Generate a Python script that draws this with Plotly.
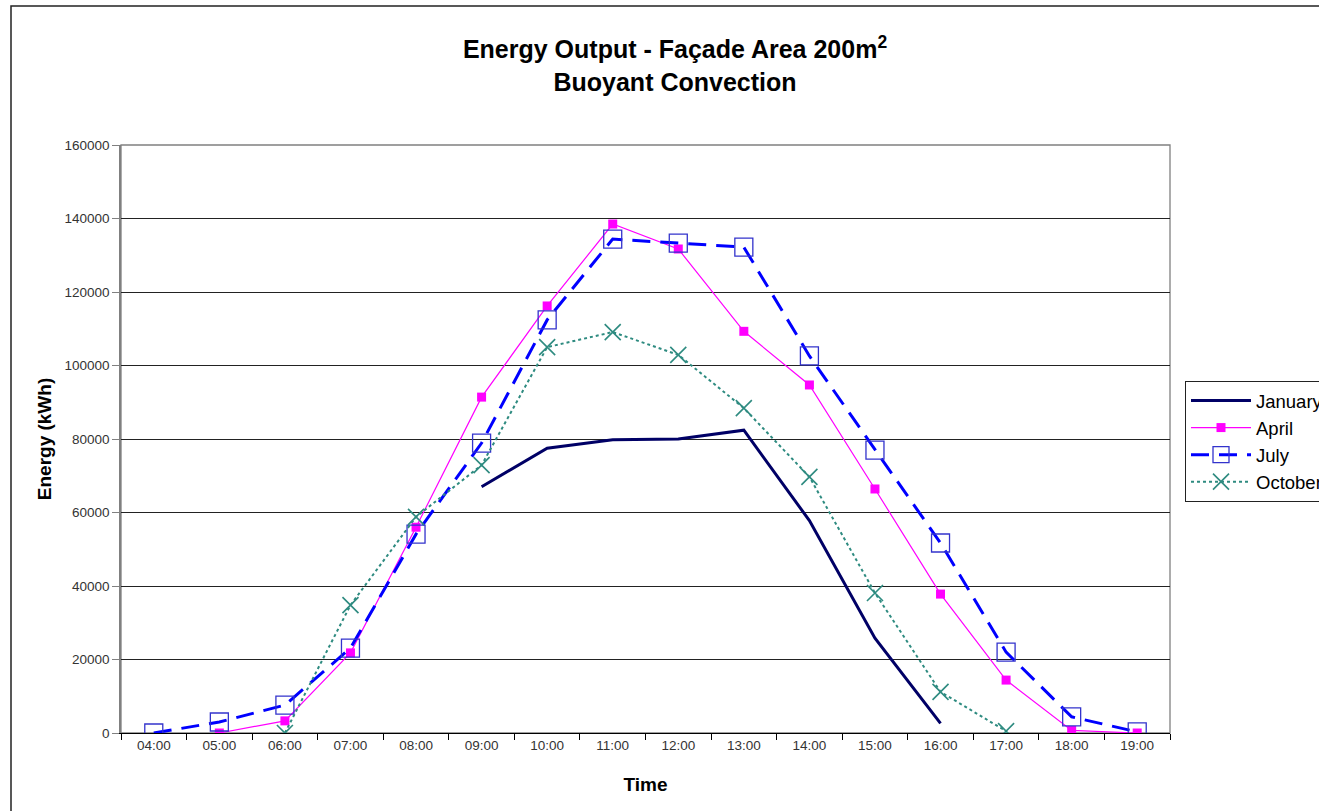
import plotly.graph_objects as go

# Hourly energy output of a 200 m² façade (buoyant convection), kWh
hours = ["04:00", "05:00", "06:00", "07:00", "08:00", "09:00", "10:00", "11:00",
         "12:00", "13:00", "14:00", "15:00", "16:00", "17:00", "18:00", "19:00"]

january = [None, None, None, None, None, 67000, 77500, 79800,
           80000, 82400, 57800, 25800, 2600, None, None, None]
april = [None, 0, 3300, 21800, 56000, 91400, 116200, 138500,
         131700, 109300, 94700, 66400, 37800, 14400, 700, 0]
july = [0, 3000, 7600, 23100, 54100, 78900, 112400, 134400,
        133300, 132200, 102600, 77000, 51700, 22000, 4400, 300]
october = [None, None, 0, 34800, 58800, 72900, 105000, 109100,
           102900, 88400, 69700, 38100, 11200, 500, None, None]

y_ticks = [0, 20000, 40000, 60000, 80000, 100000, 120000, 140000, 160000]

FONT = "Liberation Sans, Arial, sans-serif"

fig = go.Figure()

fig.add_trace(go.Scatter(
    x=hours, y=january, name="January", mode="lines",
    line=dict(color="#000066", width=3),
))
fig.add_trace(go.Scatter(
    x=hours, y=april, name="April", mode="lines+markers",
    line=dict(color="#ff00ff", width=1.2),
    marker=dict(symbol="square", size=9, color="#ff00ff"),
))
fig.add_trace(go.Scatter(
    x=hours, y=july, name="July", mode="lines+markers",
    line=dict(color="#0000ff", width=3, dash="18px,10px"),
    marker=dict(symbol="square-open", size=18, color="#3333cc",
                line=dict(width=1.3, color="#3333cc")),
))
fig.add_trace(go.Scatter(
    x=hours, y=october, name="October", mode="lines+markers",
    line=dict(color="#2e8b80", width=2, dash="dot"),
    marker=dict(symbol="x-thin-open", size=16, color="#2e8b80",
                line=dict(width=1.6, color="#2e8b80")),
))

# plot-area geometry in pixels
L, R, T, B = 121, 1170, 145, 733
W, H = 1319, 811
pw, ph = R - L, B - T


def px_x(p):
    return (p - L) / pw


def px_y(p):
    return (B - p) / ph


shapes = [
    # plot area frame
    dict(type="rect", xref="paper", yref="paper", x0=0, x1=1, y0=0, y1=1,
         line=dict(color="#808080", width=1.3), layer="below"),
    # outer chart frame
    dict(type="rect", xref="paper", yref="paper",
         x0=px_x(11), x1=px_x(1340), y0=px_y(830), y1=px_y(6),
         line=dict(color="#222222", width=1.5), layer="below"),
]

fig.update_layout(
    width=W, height=H,
    margin=dict(l=L, r=W - R, t=T, b=H - B, pad=0, autoexpand=False),
    paper_bgcolor="white", plot_bgcolor="white",
    font=dict(family=FONT, color="#000000"),
    title=dict(
        text="<b>Energy Output - Façade Area 200m<sup>2</sup><br>Buoyant Convection</b>",
        x=675 / W, xanchor="center", xref="container",
        y=1 - 58 / H, yanchor="middle", yref="container",
        font=dict(family=FONT, size=25, color="#000000"),
    ),
    xaxis=dict(
        type="category", categoryorder="array", categoryarray=hours,
        range=[-0.5, len(hours) - 0.5],
        showgrid=False, zeroline=False,
        showline=True, linecolor="#000000", linewidth=1.3,
        ticks="outside", tickson="boundaries", ticklen=6, tickcolor="#000000",
        tickfont=dict(family=FONT, size=13.5, color="#333333"),
        title=dict(text="<b>Time</b>", font=dict(family=FONT, size=19), standoff=25),
    ),
    yaxis=dict(
        range=[0, 160000], tickvals=y_ticks, tickformat="d",
        showgrid=True, gridcolor="#222222", gridwidth=1.2,
        zeroline=False,
        showline=True, linecolor="#808080", linewidth=1.5,
        ticks="outside", ticklen=7, tickcolor="#808080",
        tickfont=dict(family=FONT, size=13.5, color="#333333"),
        title=dict(text="<b>Energy (kWh)</b>", font=dict(family=FONT, size=19), standoff=8),
    ),
    legend=dict(
        x=px_x(1185), xanchor="left", y=px_y(381), yanchor="top",
        bordercolor="#222222", borderwidth=1, bgcolor="white",
        font=dict(family=FONT, size=18.5, color="#000000"),
        itemwidth=60, tracegroupgap=0,
    ),
    shapes=shapes,
    showlegend=True,
)

fig.write_html("out.html")
